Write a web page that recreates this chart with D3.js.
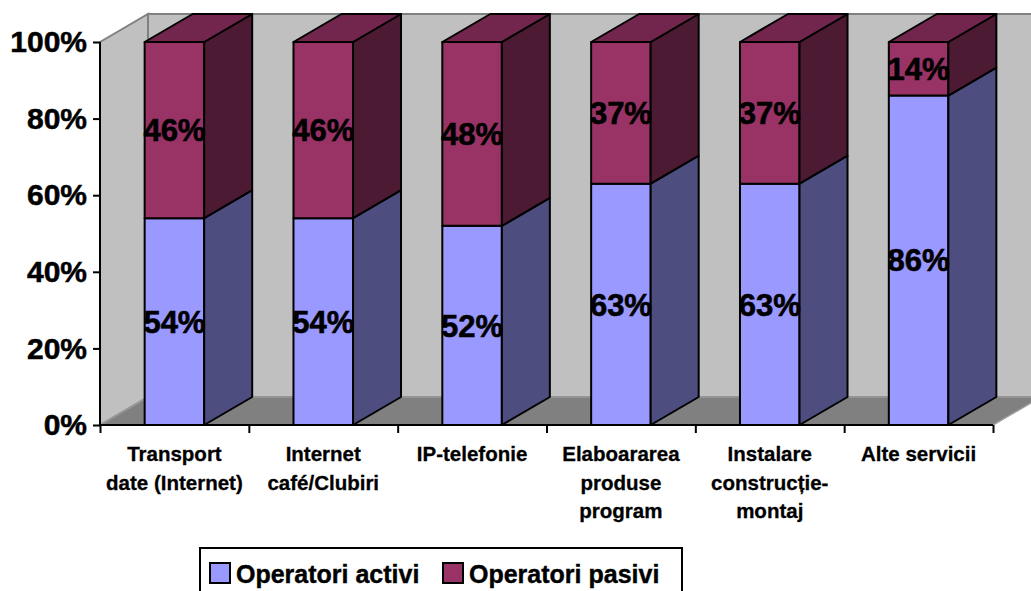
<!DOCTYPE html>
<html>
<head>
<meta charset="utf-8">
<script src="https://cdn.jsdelivr.net/npm/d3@7/dist/d3.min.js"></script>
<style>
  body { margin: 0; background: #fff; }
  svg text { font-family: "Liberation Sans", Arial, sans-serif; font-weight: 700; fill: #000; }
</style>
</head>
<body>
<div id="chart"></div>
<script>
const categories = [
    ['Transport', 'date (Internet)'],
    ['Internet', 'café/Clubiri'],
    ['IP-telefonie'],
    ['Elaboararea', 'produse', 'program'],
    ['Instalare', 'construcție-', 'montaj'],
    ['Alte servicii']
];
const activi = [54, 54, 52, 63, 63, 86];
const pasivi = [46, 46, 48, 37, 37, 14];
const yTicks = [0, 20, 40, 60, 80, 100];
const seriesNames = ['Operatori activi', 'Operatori pasivi'];

const W = 1031, H = 591;
const dx = 48, dy = -28;
const colors = {
    activi: { front: '#9999ff', side: '#4d4d80', top: '#7373bf' },
    pasivi: { front: '#993366', side: '#4d1a33', top: '#73264d' }
};

const svg = d3.select('#chart').append('svg')
    .attr('width', W)
    .attr('height', H);

const x = d3.scaleBand()
    .domain(d3.range(categories.length))
    .range([100, 993])
    .paddingInner(0.6)
    .paddingOuter(0.3);

const xEdge = d3.scaleLinear().domain([0, categories.length]).range([100, 993]);

const y = d3.scaleLinear().domain([0, 100]).range([425, 42]);

const poly = (pts) => 'M' + pts.map(p => p.join(',')).join('L') + 'Z';

// walls and floor
const x0 = xEdge(0), x1 = xEdge(categories.length);
const yTop = y(100), yBot = y(0);
svg.append('path')
    .attr('d', poly([[x0 + dx, yTop + dy], [x1 + dx, yTop + dy], [x1 + dx, yBot + dy], [x0 + dx, yBot + dy]]))
    .attr('fill', '#c0c0c0').attr('stroke', '#808080').attr('stroke-width', 2);
svg.append('path')
    .attr('d', poly([[x0, yTop], [x0 + dx, yTop + dy], [x0 + dx, yBot + dy], [x0, yBot]]))
    .attr('fill', '#c0c0c0').attr('stroke', '#808080').attr('stroke-width', 2);
svg.append('path')
    .attr('d', poly([[x0, yBot], [x0 + dx, yBot + dy], [x1 + dx, yBot + dy], [x1, yBot]]))
    .attr('fill', '#808080').attr('stroke', '#9a9a9a').attr('stroke-width', 1.5);

// bars
const stacks = categories.map((c, i) => [
    { key: 'activi', v0: 0, v1: activi[i] },
    { key: 'pasivi', v0: activi[i], v1: activi[i] + pasivi[i] }
]);

const barG = svg.selectAll('g.bar')
    .data(stacks)
    .enter().append('g')
    .attr('class', 'bar');

barG.each(function (segs, i) {
    const g = d3.select(this);
    const bx0 = x(i), bx1 = x(i) + x.bandwidth();
    segs.forEach((s, k) => {
        const ya = y(s.v0), yb = y(s.v1);
        const c = colors[s.key];
        g.append('path')
            .attr('d', poly([[bx0, yb], [bx1, yb], [bx1, ya], [bx0, ya]]))
            .attr('fill', c.front).attr('stroke', '#000').attr('stroke-width', 2).attr('stroke-linejoin', 'round');
        g.append('path')
            .attr('d', poly([[bx1, yb], [bx1 + dx, yb + dy], [bx1 + dx, ya + dy], [bx1, ya]]))
            .attr('fill', c.side).attr('stroke', '#000').attr('stroke-width', 2).attr('stroke-linejoin', 'round');
        if (k === segs.length - 1) {
            g.append('path')
                .attr('d', poly([[bx0, yb], [bx0 + dx, yb + dy], [bx1 + dx, yb + dy], [bx1, yb]]))
                .attr('fill', c.top).attr('stroke', '#000').attr('stroke-width', 2).attr('stroke-linejoin', 'round');
        }
    });
    segs.forEach(s => {
        g.append('text')
            .attr('x', (bx0 + bx1) / 2)
            .attr('y', (y(s.v0) + y(s.v1)) / 2)
            .attr('dy', '0.36em')
            .attr('text-anchor', 'middle')
            .style('font-size', '31px')
            .style('stroke', '#000').style('stroke-width', '0.6px')
            .text((s.v1 - s.v0) + '%');
    });
});

// axes
const yAxis = svg.append('g')
    .attr('transform', 'translate(' + x0 + ',0)')
    .call(d3.axisLeft(y).tickValues(yTicks).tickSize(7).tickPadding(6).tickFormat(d => d + '%'));
yAxis.selectAll('text').style('font-size', '30px')
    .style('stroke', '#000').style('stroke-width', '0.5px');
yAxis.selectAll('line').attr('stroke', '#000').attr('stroke-width', 2);
yAxis.select('.domain').attr('stroke', '#000').attr('stroke-width', 2).attr('d', 'M0,' + yTop + 'V' + yBot);

const xAxis = svg.append('g')
    .attr('transform', 'translate(0,' + yBot + ')')
    .call(d3.axisBottom(xEdge).tickValues(d3.range(categories.length + 1)).tickSize(8).tickFormat(''));
xAxis.selectAll('line').attr('stroke', '#000').attr('stroke-width', 2);
xAxis.select('.domain').attr('stroke', '#000').attr('stroke-width', 2).attr('d', 'M' + x0 + ',0H' + x1);

svg.append('g').selectAll('text')
    .data(categories)
    .enter().append('text')
    .attr('x', (d, i) => x(i) + x.bandwidth() / 2)
    .attr('y', 461)
    .attr('text-anchor', 'middle')
    .style('font-size', '20.5px')
    .style('stroke', '#000').style('stroke-width', '0.3px')
    .selectAll('tspan')
    .data(d => d)
    .enter().append('tspan')
    .attr('x', function () { return this.parentNode.getAttribute('x'); })
    .attr('dy', (d, j) => j === 0 ? 0 : 28.5)
    .text(d => d);

// legend
const legend = svg.append('g');
legend.append('rect')
    .attr('x', 200).attr('y', 548).attr('width', 482).attr('height', 52)
    .attr('fill', '#fff').attr('stroke', '#000').attr('stroke-width', 2);
const legendX = [210, 443];
const item = legend.selectAll('g.item')
    .data(seriesNames)
    .enter().append('g')
    .attr('transform', (d, i) => 'translate(' + legendX[i] + ',563)');
item.append('rect')
    .attr('width', 20).attr('height', 20)
    .attr('fill', (d, i) => i === 0 ? colors.activi.front : colors.pasivi.front)
    .attr('stroke', '#000').attr('stroke-width', 2);
item.append('text')
    .attr('x', 26).attr('y', 20)
    .style('font-size', '25px')
    .style('stroke', '#000').style('stroke-width', '0.4px')
    .text(d => d);
</script>
</body>
</html>
